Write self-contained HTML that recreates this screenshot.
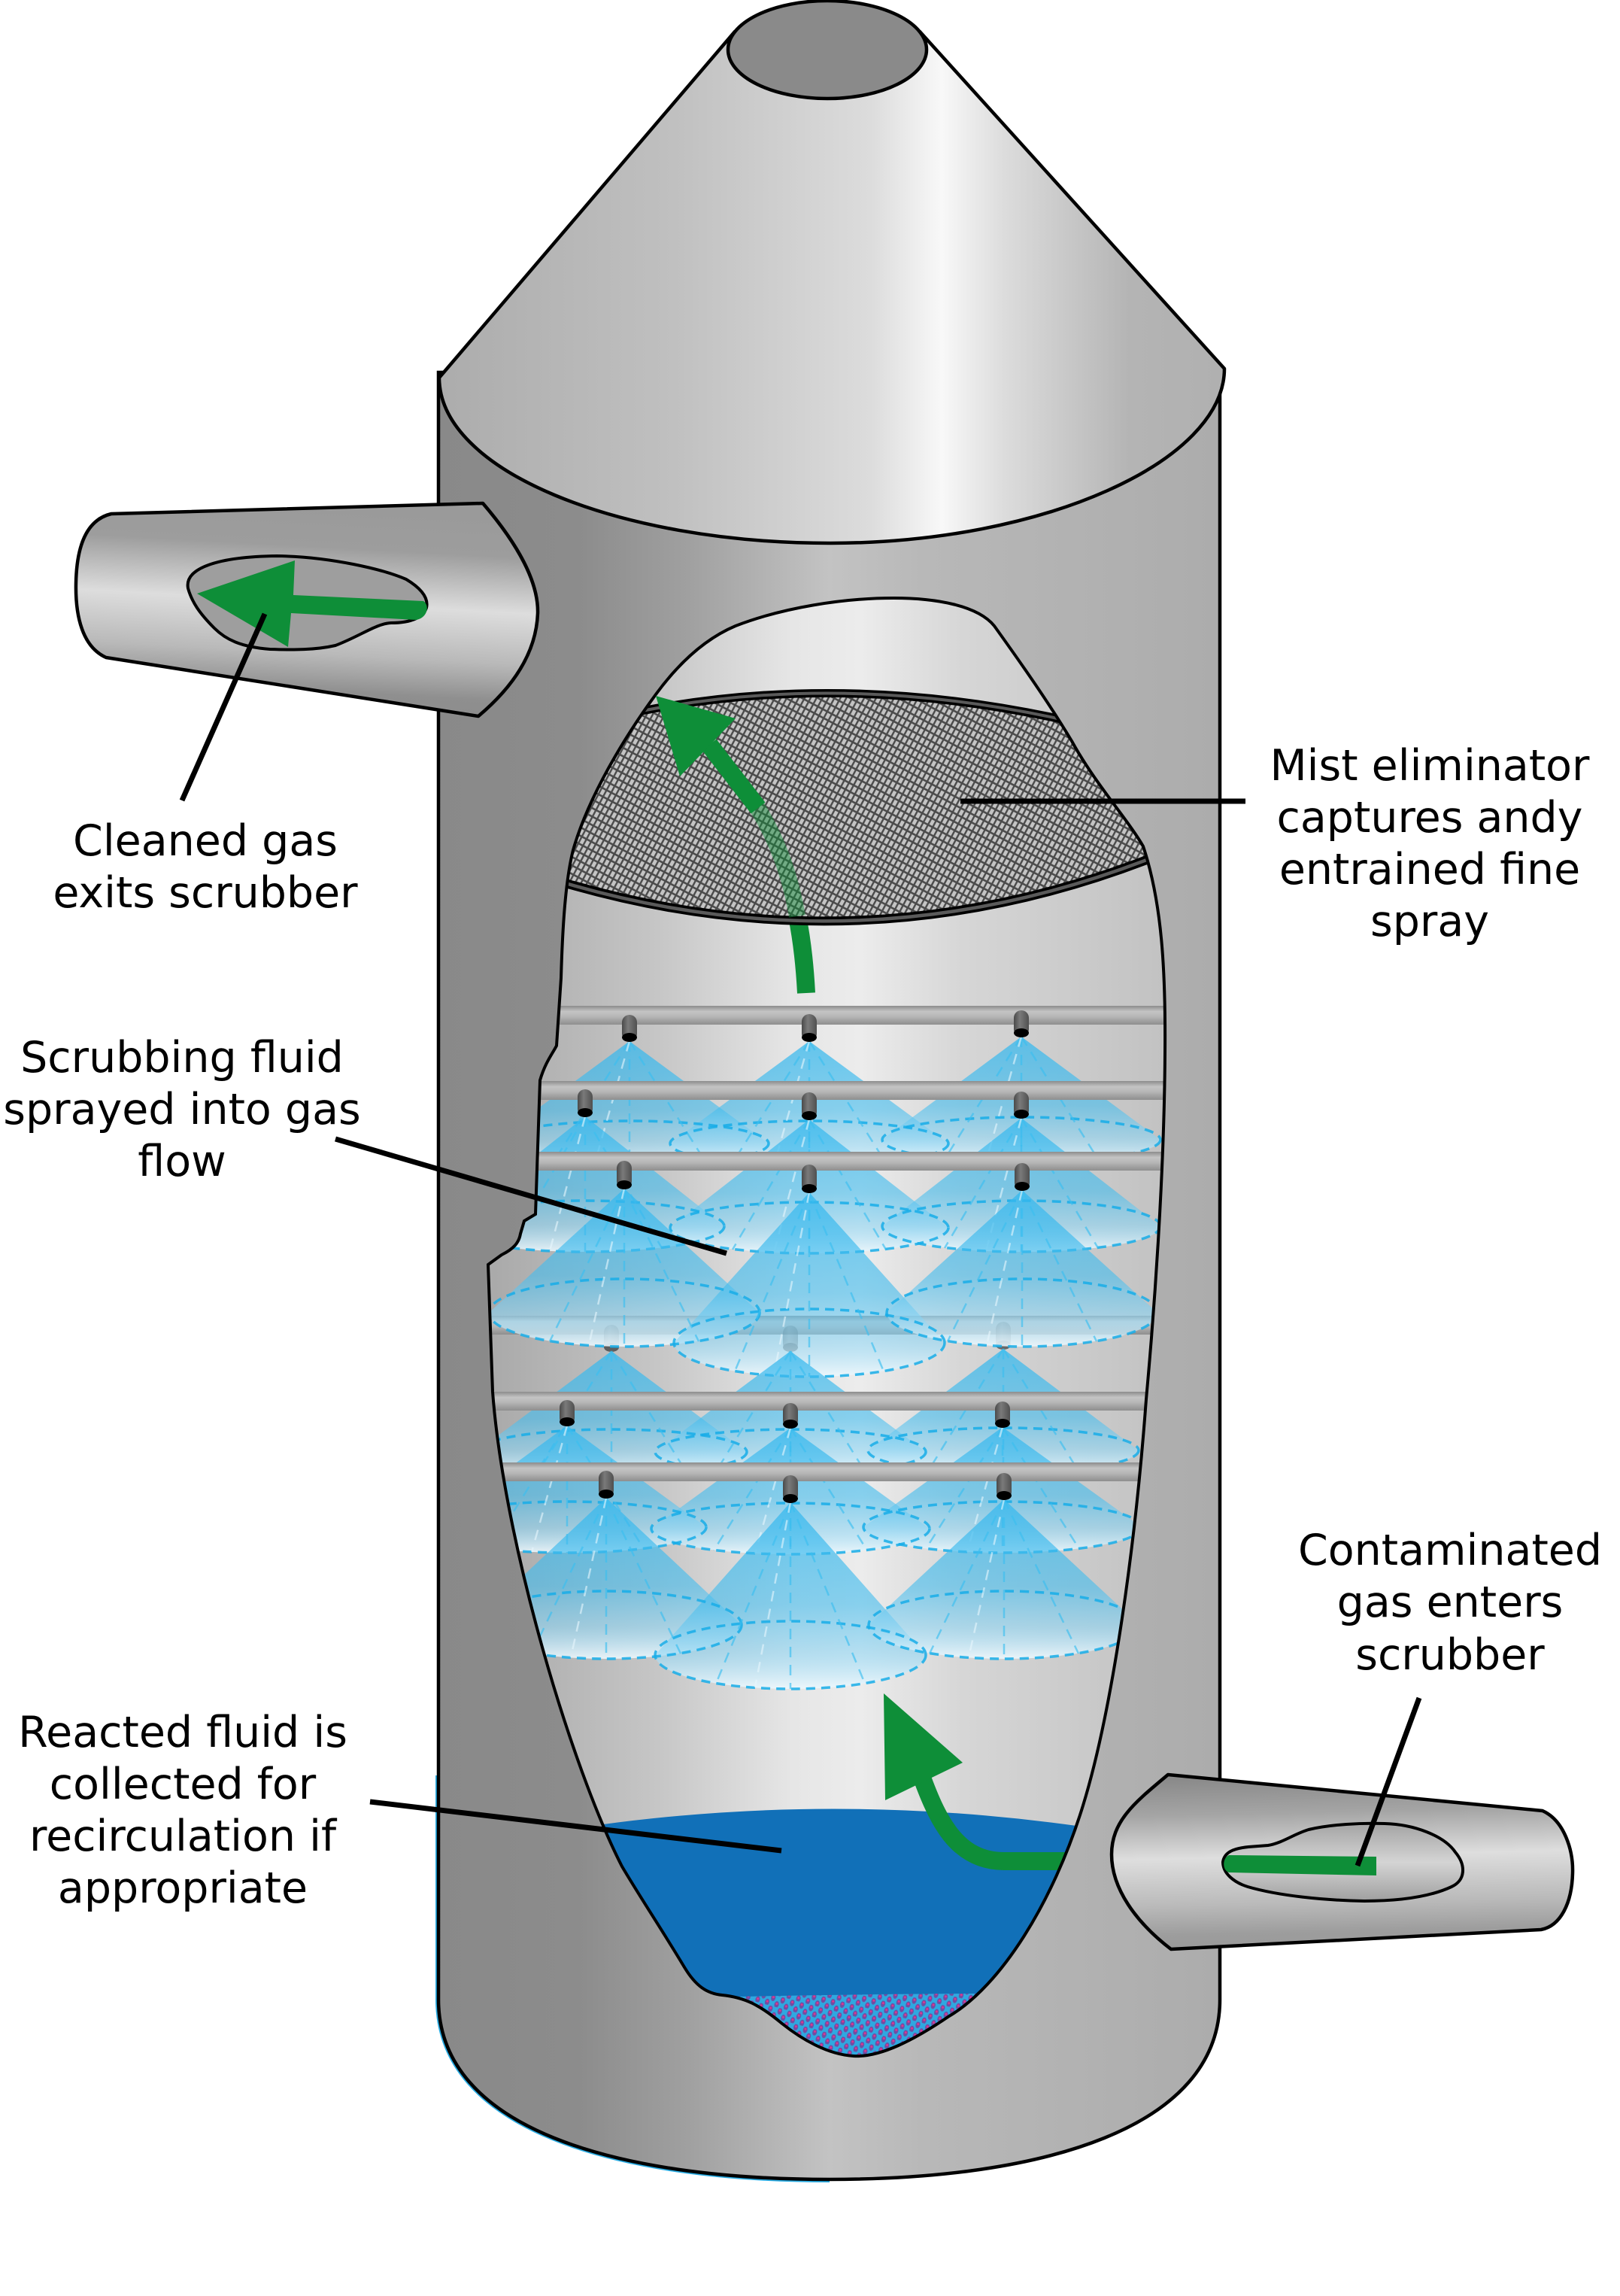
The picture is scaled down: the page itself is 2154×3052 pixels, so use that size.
<!DOCTYPE html>
<html><head><meta charset="utf-8">
<style>
html,body{margin:0;padding:0;background:#fff;}
svg{display:block;}
.d{fill:none;stroke:#17ade8;stroke-width:3.5;stroke-dasharray:12 8;opacity:.85;}
.d2{fill:none;stroke:#3cbff0;stroke-width:2.5;stroke-dasharray:14 10;opacity:.65;}
.d3{fill:none;stroke:#e8f7fd;stroke-width:2.5;stroke-dasharray:14 10;opacity:.6;}
.t{font-family:"DejaVu Sans","Liberation Sans",sans-serif;font-size:57px;fill:#000;text-anchor:middle;}
</style></head>
<body>
<svg width="2154" height="3052" viewBox="0 0 2154 3052" xmlns="http://www.w3.org/2000/svg">
<defs>
 <linearGradient id="bodyG" gradientUnits="userSpaceOnUse" x1="583" y1="0" x2="1622" y2="0">
  <stop offset="0" stop-color="#898989"/><stop offset=".18" stop-color="#8c8c8c"/>
  <stop offset=".32" stop-color="#a0a0a0"/><stop offset=".5" stop-color="#c3c3c3"/>
  <stop offset=".62" stop-color="#b8b8b8"/><stop offset="1" stop-color="#acacac"/>
 </linearGradient>
 <linearGradient id="coneG" gradientUnits="userSpaceOnUse" x1="584" y1="0" x2="1628" y2="0">
  <stop offset="0" stop-color="#acacac"/><stop offset=".3" stop-color="#c0c0c0"/>
  <stop offset=".55" stop-color="#dcdcdc"/><stop offset=".64" stop-color="#f8f8f8"/>
  <stop offset=".72" stop-color="#dcdcdc"/><stop offset=".88" stop-color="#b4b4b4"/>
  <stop offset="1" stop-color="#b0b0b0"/>
 </linearGradient>
 <linearGradient id="winG" gradientUnits="userSpaceOnUse" x1="649" y1="0" x2="1550" y2="0">
  <stop offset="0" stop-color="#a9a9a9"/><stop offset=".25" stop-color="#c6c6c6"/>
  <stop offset=".45" stop-color="#e6e6e6"/><stop offset=".55" stop-color="#ececec"/>
  <stop offset=".7" stop-color="#d6d6d6"/><stop offset="1" stop-color="#c2c2c2"/>
 </linearGradient>
 <linearGradient id="lpG" gradientUnits="userSpaceOnUse" x1="420" y1="672" x2="405" y2="945">
  <stop offset="0" stop-color="#9a9a9a"/><stop offset=".2" stop-color="#9d9d9d"/>
  <stop offset=".47" stop-color="#dddddd"/><stop offset=".72" stop-color="#b9b9b9"/>
  <stop offset=".9" stop-color="#8f8f8f"/><stop offset="1" stop-color="#8c8c8c"/>
 </linearGradient>
 <linearGradient id="rpG" gradientUnits="userSpaceOnUse" x1="1800" y1="2360" x2="1805" y2="2590">
  <stop offset="0" stop-color="#8a8a8a"/><stop offset=".21" stop-color="#a5a5a5"/>
  <stop offset=".46" stop-color="#dedede"/><stop offset=".73" stop-color="#bababa"/>
  <stop offset=".9" stop-color="#9d9d9d"/><stop offset="1" stop-color="#999999"/>
 </linearGradient>
 <linearGradient id="rbG" x1="0" y1="0" x2="0" y2="1">
  <stop offset="0" stop-color="#a4a4a4"/><stop offset=".5" stop-color="#d4d4d4"/><stop offset="1" stop-color="#a0a0a0"/>
 </linearGradient>
 <linearGradient id="spG" x1="0" y1="0" x2="0" y2="1">
  <stop offset="0" stop-color="#35b8ee" stop-opacity=".75"/>
  <stop offset=".55" stop-color="#45bdee" stop-opacity=".6"/>
  <stop offset=".8" stop-color="#8fd5f3" stop-opacity=".6"/>
  <stop offset="1" stop-color="#eef8fd" stop-opacity=".9"/>
 </linearGradient>
 <linearGradient id="railG" x1="0" y1="0" x2="0" y2="1">
  <stop offset="0" stop-color="#8c8c8c"/><stop offset=".3" stop-color="#c4c4c4"/>
  <stop offset=".55" stop-color="#b8b8b8"/><stop offset="1" stop-color="#8e8e8e"/>
 </linearGradient>
 <linearGradient id="nozG" x1="0" y1="0" x2="1" y2="0">
  <stop offset="0" stop-color="#4a4a4a"/><stop offset=".4" stop-color="#7a7a7a"/><stop offset="1" stop-color="#505050"/>
 </linearGradient>
 <pattern id="mesh" width="10" height="7" patternUnits="userSpaceOnUse" patternTransform="rotate(-62)">
  <rect width="10" height="7" fill="#c4c4c4"/>
  <rect x="0" y="0" width="10" height="2.4" fill="#4b4b4b"/>
  <rect x="0" y="0" width="2.6" height="7" fill="#4b4b4b"/>
 </pattern>
 <pattern id="dots" width="13" height="15" patternUnits="userSpaceOnUse" patternTransform="rotate(15)">
  <rect width="13" height="15" fill="#2fa8e0"/>
  <ellipse cx="3.5" cy="4" rx="3" ry="4.5" fill="#6f4ea3"/>
  <ellipse cx="10" cy="11.5" rx="3" ry="4.5" fill="#6f4ea3"/>
  <circle cx="3.5" cy="3" r="1.5" fill="#e2368e"/>
  <circle cx="10" cy="10.5" r="1.5" fill="#e2368e"/>
 </pattern>
 <clipPath id="win"><path d="M1188,795 C1245,795 1300,805 1322,832 C1360,885 1395,935 1425,985 C1455,1040 1500,1090 1520,1125 C1545,1200 1550,1290 1549,1400 C1548,1560 1535,1740 1524,1860 C1510,2050 1480,2270 1440,2400 C1400,2530 1330,2640 1262,2680 C1215,2712 1170,2735 1135,2733 C1100,2731 1065,2710 1040,2690 C1010,2665 990,2655 960,2652 C940,2650 925,2640 910,2615 C880,2565 850,2520 827,2481 C760,2350 670,2050 655,1850 L649,1681 L667,1668 C683,1660 690,1652 692,1640 L697,1623 L712,1614 L718,1436 C725,1412 735,1400 740,1390 L746,1300 C748,1230 752,1170 762,1130 C782,1060 830,980 872,923 C905,878 940,848 978,832 C1040,808 1120,795 1188,795 Z"/></clipPath>
</defs>

<!-- body -->
<path d="M580,2360 L580,2658 C580,2832 818,2900 1103,2900" fill="none" stroke="#29abe2" stroke-width="2"/>
<path d="M583,495 L583,2658 C583,2830 820,2897 1103,2897 C1385,2897 1622,2830 1622,2658 L1622,490 Z" fill="url(#bodyG)" stroke="#000" stroke-width="4.5"/>
<!-- cone -->
<path d="M584,502 L977,42 L1223,42 L1628,490 C1628,613 1388,722 1104,722 C820,722 584,625 584,502 Z" fill="url(#coneG)" stroke="#000" stroke-width="4.5" stroke-linejoin="round"/>
<ellipse cx="1100" cy="66" rx="132" ry="65" fill="#8a8a8a" stroke="#000" stroke-width="4.5"/>

<!-- window contents -->
<g clip-path="url(#win)">
 <rect x="640" y="780" width="920" height="1960" fill="url(#winG)"/>
 <path d="M1072,1320 C1070,1282 1066,1248 1060,1218" fill="none" stroke="#0e8e38" stroke-width="24"/>
 <!-- mesh -->
 <path d="M820,952 Q1120,885 1450,965 L1600,965 L1600,1150 L1540,1137 Q1150,1292 745,1172 L700,1170 L700,952 Z" fill="url(#mesh)"/>
 <path d="M820,952 Q1120,885 1450,965" fill="none" stroke="#000" stroke-width="11"/>
 <path d="M820,952 Q1120,885 1450,965" fill="none" stroke="#5a5a5a" stroke-width="4"/>
 <path d="M1540,1137 Q1150,1292 745,1172" fill="none" stroke="#000" stroke-width="12"/>
 <path d="M1540,1137 Q1150,1292 745,1172" fill="none" stroke="#5a5a5a" stroke-width="4.5"/>
 <path d="M1060,1218 C1052,1170 1036,1120 1006,1072" fill="none" stroke="#0e8e38" stroke-width="22" opacity=".45"/>

 <!-- faded rail 4 and nozzles -->
 <rect x="640" y="1749" width="920" height="25" fill="url(#railG)"/>
 <g opacity=".5">
  <rect x="803" y="1761" width="20" height="35" rx="10" fill="url(#nozG)"/><ellipse cx="813" cy="1791" rx="10" ry="6"/>
  <rect x="1041" y="1762" width="20" height="34" rx="10" fill="url(#nozG)"/><ellipse cx="1051" cy="1791" rx="10" ry="6"/>
  <rect x="1324" y="1757" width="20" height="36" rx="10" fill="url(#nozG)"/><ellipse cx="1334" cy="1788" rx="10" ry="6"/>
 </g>

 <!-- sprays -->
 <g>
  <!-- row1 -->
  <path d="M837,1384 L652,1520 A185 30 0 0 0 1022,1520 Z" fill="url(#spG)"/>
  <path d="M1076,1384 L891,1520 A185 30 0 0 0 1261,1520 Z" fill="url(#spG)"/>
  <path d="M1358,1378 L1173,1515 A185 30 0 0 0 1543,1515 Z" fill="url(#spG)"/>
  <ellipse cx="837" cy="1520" rx="185" ry="30" class="d"/>
  <ellipse cx="1076" cy="1520" rx="185" ry="30" class="d"/>
  <ellipse cx="1358" cy="1515" rx="185" ry="30" class="d"/>
  <path d="M837,1384 L735,1546 M837,1384 L837,1550 M837,1384 L939,1546 M1076,1384 L974,1546 M1076,1384 L1076,1550 M1076,1384 L1178,1546 M1358,1378 L1256,1541 M1358,1378 L1358,1545 M1358,1378 L1460,1541" class="d2"/>
  <path d="M837,1384 L790,1549 M1076,1384 L1029,1549 M1358,1378 L1311,1544" class="d3"/>
  <!-- row2 -->
  <path d="M778,1484 L593,1630 A185 34 0 0 0 963,1630 Z" fill="url(#spG)"/>
  <path d="M1076,1488 L891,1632 A185 34 0 0 0 1261,1632 Z" fill="url(#spG)"/>
  <path d="M1358,1486 L1173,1630 A185 34 0 0 0 1543,1630 Z" fill="url(#spG)"/>
  <ellipse cx="778" cy="1630" rx="185" ry="34" class="d"/>
  <ellipse cx="1076" cy="1632" rx="185" ry="34" class="d"/>
  <ellipse cx="1358" cy="1630" rx="185" ry="34" class="d"/>
  <path d="M778,1484 L676,1659 M778,1484 L778,1664 M778,1484 L880,1659 M1076,1488 L974,1661 M1076,1488 L1076,1666 M1076,1488 L1178,1661 M1358,1486 L1256,1659 M1358,1486 L1358,1664 M1358,1486 L1460,1659" class="d2"/>
  <path d="M778,1484 L731,1663 M1076,1488 L1029,1665 M1358,1486 L1311,1663" class="d3"/>
  <!-- row3 -->
  <path d="M830,1580 L650,1745 A180 45 0 0 0 1010,1745 Z" fill="url(#spG)"/>
  <path d="M1076,1585 L896,1785 A180 45 0 0 0 1256,1785 Z" fill="url(#spG)"/>
  <path d="M1359,1582 L1179,1745 A180 45 0 0 0 1539,1745 Z" fill="url(#spG)"/>
  <ellipse cx="830" cy="1745" rx="180" ry="45" class="d"/>
  <ellipse cx="1076" cy="1785" rx="180" ry="45" class="d"/>
  <ellipse cx="1359" cy="1745" rx="180" ry="45" class="d"/>
  <path d="M830,1580 L731,1783 M830,1580 L830,1790 M830,1580 L929,1783 M1076,1585 L977,1823 M1076,1585 L1076,1830 M1076,1585 L1175,1823 M1359,1582 L1260,1783 M1359,1582 L1359,1790 M1359,1582 L1458,1783" class="d2"/>
  <path d="M830,1580 L783,1788 M1076,1585 L1029,1828 M1359,1582 L1312,1788" class="d3"/>
  <!-- row4 -->
  <path d="M813,1796 L633,1930 A180 30 0 0 0 993,1930 Z" fill="url(#spG)"/>
  <path d="M1051,1796 L871,1930 A180 30 0 0 0 1231,1930 Z" fill="url(#spG)"/>
  <path d="M1334,1793 L1154,1928 A180 30 0 0 0 1514,1928 Z" fill="url(#spG)"/>
  <ellipse cx="813" cy="1930" rx="180" ry="30" class="d"/>
  <ellipse cx="1051" cy="1930" rx="180" ry="30" class="d"/>
  <ellipse cx="1334" cy="1928" rx="180" ry="30" class="d"/>
  <path d="M813,1796 L714,1956 M813,1796 L813,1960 M813,1796 L912,1956 M1051,1796 L952,1956 M1051,1796 L1051,1960 M1051,1796 L1150,1956 M1334,1793 L1235,1954 M1334,1793 L1334,1958 M1334,1793 L1433,1954" class="d2"/>
  <!-- row5 -->
  <path d="M754,1895 L569,2030 A185 34 0 0 0 939,2030 Z" fill="url(#spG)"/>
  <path d="M1051,1898 L866,2032 A185 34 0 0 0 1236,2032 Z" fill="url(#spG)"/>
  <path d="M1333,1897 L1148,2030 A185 34 0 0 0 1518,2030 Z" fill="url(#spG)"/>
  <ellipse cx="754" cy="2030" rx="185" ry="34" class="d"/>
  <ellipse cx="1051" cy="2032" rx="185" ry="34" class="d"/>
  <ellipse cx="1333" cy="2030" rx="185" ry="34" class="d"/>
  <path d="M754,1895 L652,2059 M754,1895 L754,2064 M754,1895 L856,2059 M1051,1898 L949,2061 M1051,1898 L1051,2066 M1051,1898 L1153,2061 M1333,1897 L1231,2059 M1333,1897 L1333,2064 M1333,1897 L1435,2059" class="d2"/>
  <path d="M754,1895 L707,2063 M1051,1898 L1004,2065 M1333,1897 L1286,2063" class="d3"/>
  <!-- row6 -->
  <path d="M806,1991 L626,2160 A180 45 0 0 0 986,2160 Z" fill="url(#spG)"/>
  <path d="M1051,1997 L871,2200 A180 45 0 0 0 1231,2200 Z" fill="url(#spG)"/>
  <path d="M1335,1993 L1155,2160 A180 45 0 0 0 1515,2160 Z" fill="url(#spG)"/>
  <ellipse cx="806" cy="2160" rx="180" ry="45" class="d"/>
  <ellipse cx="1051" cy="2200" rx="180" ry="45" class="d"/>
  <ellipse cx="1335" cy="2160" rx="180" ry="45" class="d"/>
  <path d="M806,1991 L707,2198 M806,1991 L806,2205 M806,1991 L905,2198 M1051,1997 L952,2238 M1051,1997 L1051,2245 M1051,1997 L1150,2238 M1335,1993 L1236,2198 M1335,1993 L1335,2205 M1335,1993 L1434,2198" class="d2"/>
  <path d="M806,1991 L759,2203 M1051,1997 L1004,2243 M1335,1993 L1288,2203" class="d3"/>
 </g>

 <!-- rails -->
 <rect x="640" y="1337" width="920" height="25" fill="url(#railG)"/>
 <rect x="640" y="1437" width="920" height="25" fill="url(#railG)"/>
 <rect x="640" y="1531" width="920" height="25" fill="url(#railG)"/>
 <rect x="640" y="1850" width="920" height="25" fill="url(#railG)"/>
 <rect x="640" y="1944" width="920" height="25" fill="url(#railG)"/>

 <!-- nozzles -->
 <g>
  <rect x="827" y="1349" width="20" height="35" rx="10" fill="url(#nozG)"/><ellipse cx="837" cy="1379" rx="10" ry="6"/>
  <rect x="1066" y="1348" width="20" height="36" rx="10" fill="url(#nozG)"/><ellipse cx="1076" cy="1379" rx="10" ry="6"/>
  <rect x="1348" y="1343" width="20" height="35" rx="10" fill="url(#nozG)"/><ellipse cx="1358" cy="1373" rx="10" ry="6"/>
  <rect x="768" y="1448" width="20" height="36" rx="10" fill="url(#nozG)"/><ellipse cx="778" cy="1479" rx="10" ry="6"/>
  <rect x="1066" y="1452" width="20" height="36" rx="10" fill="url(#nozG)"/><ellipse cx="1076" cy="1483" rx="10" ry="6"/>
  <rect x="1348" y="1451" width="20" height="35" rx="10" fill="url(#nozG)"/><ellipse cx="1358" cy="1481" rx="10" ry="6"/>
  <rect x="820" y="1543" width="20" height="37" rx="10" fill="url(#nozG)"/><ellipse cx="830" cy="1575" rx="10" ry="6"/>
  <rect x="1066" y="1548" width="20" height="37" rx="10" fill="url(#nozG)"/><ellipse cx="1076" cy="1580" rx="10" ry="6"/>
  <rect x="1349" y="1546" width="20" height="36" rx="10" fill="url(#nozG)"/><ellipse cx="1359" cy="1577" rx="10" ry="6"/>
  <rect x="744" y="1861" width="20" height="34" rx="10" fill="url(#nozG)"/><ellipse cx="754" cy="1890" rx="10" ry="6"/>
  <rect x="1041" y="1865" width="20" height="33" rx="10" fill="url(#nozG)"/><ellipse cx="1051" cy="1893" rx="10" ry="6"/>
  <rect x="1323" y="1863" width="20" height="34" rx="10" fill="url(#nozG)"/><ellipse cx="1333" cy="1892" rx="10" ry="6"/>
  <rect x="796" y="1955" width="20" height="36" rx="10" fill="url(#nozG)"/><ellipse cx="806" cy="1986" rx="10" ry="6"/>
  <rect x="1041" y="1961" width="20" height="36" rx="10" fill="url(#nozG)"/><ellipse cx="1051" cy="1992" rx="10" ry="6"/>
  <rect x="1325" y="1958" width="20" height="35" rx="10" fill="url(#nozG)"/><ellipse cx="1335" cy="1988" rx="10" ry="6"/>
 </g>

 <!-- water -->
 <path d="M700,2441 Q1107,2368 1520,2441 L1520,2800 L700,2800 Z" fill="#1170b8"/>
 <path d="M700,2662 Q1100,2648 1500,2650 L1500,2800 L700,2800 Z" fill="url(#dots)"/>
 <path d="M1222,2352 C1246,2420 1272,2474 1335,2474 L1430,2474" fill="none" stroke="#0e8e38" stroke-width="24"/>
</g>
<!-- window outline -->
<path d="M1188,795 C1245,795 1300,805 1322,832 C1360,885 1395,935 1425,985 C1455,1040 1500,1090 1520,1125 C1545,1200 1550,1290 1549,1400 C1548,1560 1535,1740 1524,1860 C1510,2050 1480,2270 1440,2400 C1400,2530 1330,2640 1262,2680 C1215,2712 1170,2735 1135,2733 C1100,2731 1065,2710 1040,2690 C1010,2665 990,2655 960,2652 C940,2650 925,2640 910,2615 C880,2565 850,2520 827,2481 C760,2350 670,2050 655,1850 L649,1681 L667,1668 C683,1660 690,1652 692,1640 L697,1623 L712,1614 L718,1436 C725,1412 735,1400 740,1390 L746,1300 C748,1230 752,1170 762,1130 C782,1060 830,980 872,923 C905,878 940,848 978,832 C1040,808 1120,795 1188,795 Z" fill="none" stroke="#000" stroke-width="4"/>

<!-- mist arrow upper part -->
<path d="M1008,1074 L943,990" fill="none" stroke="#0e8e38" stroke-width="24"/>
<polygon points="872,925 978,955 904,1032" fill="#0e8e38"/>
<!-- bottom arrow head -->
<polygon points="1175,2251 1280,2343 1177,2393" fill="#0e8e38"/>

<!-- left pipe -->
<path d="M148,683 L642,669 C690,725 716,775 715,815 C713,870 680,915 636,952 L141,874 C110,860 100,820 101,775 C102,720 118,690 148,683 Z" fill="url(#lpG)" stroke="#000" stroke-width="4.5" stroke-linejoin="round"/>
<path d="M250,782 C245,755 290,740 368,739 C440,740 510,757 540,770 C560,782 570,795 567,808 C563,820 548,828 520,828 C500,829 480,845 446,858 C420,864 390,864 359,863 C320,860 300,850 285,835 C265,815 255,800 250,782 Z" fill="#9e9e9e" stroke="#000" stroke-width="4"/>
<path d="M262,789 L392,745 L390,791 L563,799 C572,805 568,822 553,824 L387,815 L383,860 Z" fill="#0e8e38"/>

<!-- right pipe -->
<path d="M1553,2359 L2051,2407 C2080,2420 2092,2460 2091,2490 C2090,2530 2075,2560 2049,2565 L1557,2591 C1510,2555 1478,2510 1478,2465 C1478,2420 1510,2395 1553,2359 Z" fill="url(#rpG)" stroke="#000" stroke-width="4.5" stroke-linejoin="round"/>
<path d="M1626,2475 C1628,2462 1640,2457 1660,2455 L1686,2453 C1705,2450 1720,2438 1740,2432 C1770,2425 1810,2423 1841,2424 C1880,2425 1920,2440 1935,2462 C1950,2480 1948,2500 1930,2508 C1900,2522 1860,2527 1814,2527 C1760,2526 1700,2520 1659,2508 C1640,2502 1626,2490 1626,2475 Z" fill="url(#rbG)" stroke="#000" stroke-width="4"/>
<path d="M1634,2466 L1830,2468 L1830,2493 L1634,2489 C1625,2486 1625,2470 1634,2466 Z" fill="#0e8e38"/>

<!-- leader lines -->
<g stroke="#000" stroke-width="7" fill="none">
 <line x1="352" y1="816" x2="242" y2="1064"/>
 <line x1="1277" y1="1065" x2="1656" y2="1065"/>
 <line x1="446" y1="1514" x2="966" y2="1666"/>
 <line x1="492" y1="2395" x2="1039" y2="2460"/>
 <line x1="1887" y1="2257" x2="1805" y2="2480"/>
</g>

<!-- labels -->
<text class="t" x="273" y="1137">Cleaned gas</text>
<text class="t" x="273" y="1206">exits scrubber</text>
<text class="t" x="1901" y="1037">Mist eliminator</text>
<text class="t" x="1901" y="1106">captures andy</text>
<text class="t" x="1901" y="1175">entrained fine</text>
<text class="t" x="1901" y="1244">spray</text>
<text class="t" x="242" y="1425">Scrubbing fluid</text>
<text class="t" x="242" y="1494">sprayed into gas</text>
<text class="t" x="242" y="1563">flow</text>
<text class="t" x="243" y="2322">Reacted fluid is</text>
<text class="t" x="243" y="2391">collected for</text>
<text class="t" x="243" y="2460">recirculation if</text>
<text class="t" x="243" y="2529">appropriate</text>
<text class="t" x="1928" y="2080">Contaminated</text>
<text class="t" x="1928" y="2149">gas enters</text>
<text class="t" x="1928" y="2219">scrubber</text>
</svg>
</body></html>
